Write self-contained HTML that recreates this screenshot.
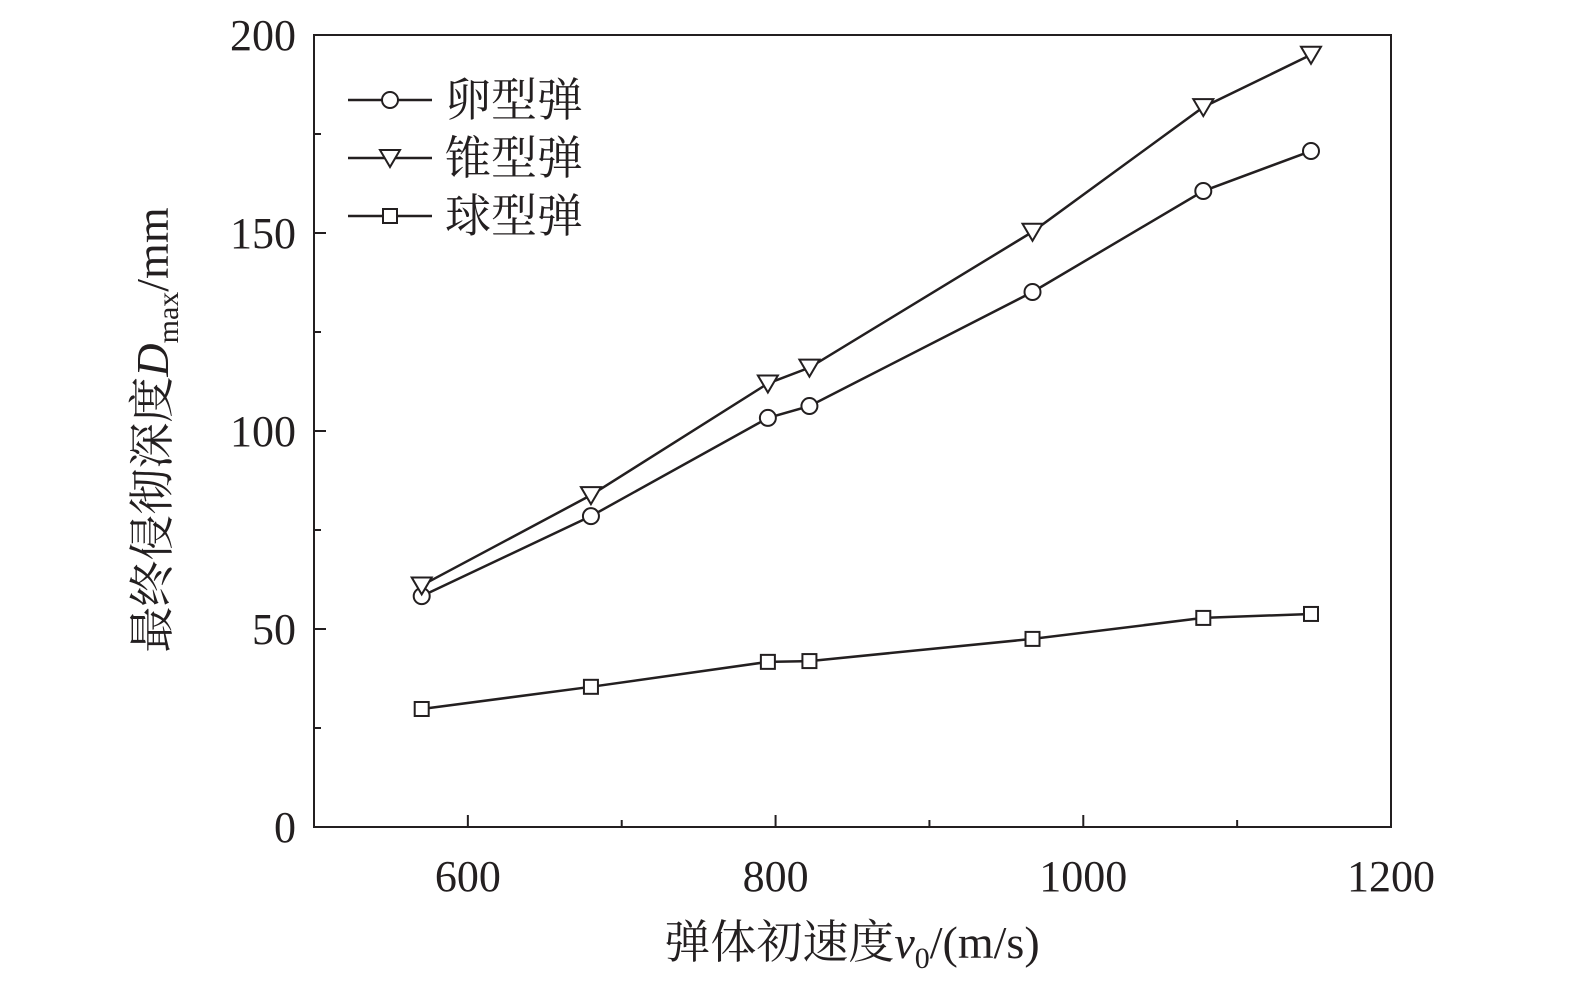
<!DOCTYPE html>
<html><head><meta charset="utf-8"><style>
body{margin:0;background:#fff}
svg text{font-family:"Liberation Serif","Noto Serif CJK SC",serif;fill:#231f20}
</style></head><body>
<svg width="1575" height="995" xmlns="http://www.w3.org/2000/svg">
<g id="axes"></g>
<g id="series"></g>
<g id="legend"></g>
<text x="852" y="958" font-size="46" text-anchor="middle">弹体初速度<tspan font-style="italic">v</tspan><tspan font-size="30" dy="10">0</tspan><tspan dy="-10">/(m/s)</tspan></text>
<text transform="translate(168,430) rotate(-90)" font-size="46" text-anchor="middle">最终侵彻深度<tspan font-style="italic">D</tspan><tspan font-size="30" dy="10">max</tspan><tspan dy="-10">/mm</tspan></text>
</svg>
<script>
const xs=[570,680,795,822,967,1078,1148];
const ogive=[58.3,78.5,103.3,106.3,135.1,160.6,170.7];
const cone=[61,83.8,112,116,150.3,181.8,195];
const sphere=[29.8,35.4,41.7,41.9,47.5,52.8,53.8];
const xTicks=[600,800,1000,1200];
const xMinor=[700,900,1100];
const yTicks=[0,50,100,150,200];
const yMinor=[25,75,125,175];
const names=["卵型弹","锥型弹","球型弹"];
const L=314,R=1391,T=35,B=827;
const X=v=>L+(v-500)/(1200-500)*(R-L);
const Y=v=>B-v/200*(B-T);
const NS="http://www.w3.org/2000/svg";
function mk(tag,at,parent){const e=document.createElementNS(NS,tag);for(const k in at)e.setAttribute(k,at[k]);parent.appendChild(e);return e;}
const ax=document.getElementById('axes'),se=document.getElementById('series'),lg=document.getElementById('legend');
const frame=mk('rect',{x:L,y:T,width:R-L,height:B-T,fill:'none',stroke:'#231f20','stroke-width':2},ax);


xTicks.forEach(v=>{const l=mk('line',{x1:X(v),x2:X(v),y1:B,y2:B-12,stroke:'#231f20','stroke-width':2},ax);


const t=mk('text',{x:X(v),y:B+64,'font-size':44,'text-anchor':'middle'},ax);t.textContent=v;

});
xMinor.forEach(v=>{const l=mk('line',{x1:X(v),x2:X(v),y1:B,y2:B-7,stroke:'#231f20','stroke-width':2},ax);

});
yTicks.forEach(v=>{const l=mk('line',{x1:L,x2:L+12,y1:Y(v),y2:Y(v),stroke:'#231f20','stroke-width':2},ax);


const t=mk('text',{x:L-18,y:Y(v)+15,'font-size':44,'text-anchor':'end'},ax);t.textContent=v;

});
yMinor.forEach(v=>{const l=mk('line',{x1:L,x2:L+7,y1:Y(v),y2:Y(v),stroke:'#231f20','stroke-width':2},ax);

});
function marker(type,x,y,p){let e;
if(type==0)e=mk('circle',{cx:x,cy:y,r:8,fill:'#fff',stroke:'#231f20','stroke-width':2},p);
else if(type==1)e=mk('path',{d:`M${x-10},${y-8}L${x+10},${y-8}L${x},${y+9}Z`,fill:'#fff',stroke:'#231f20','stroke-width':2},p);
else e=mk('rect',{x:x-7,y:y-7,width:14,height:14,fill:'#fff',stroke:'#231f20','stroke-width':2},p);
return e;}
[ogive,cone,sphere].forEach((arr,si)=>{
const pl=mk('polyline',{points:arr.map((v,i)=>X(xs[i])+','+Y(v)).join(' '),fill:'none',stroke:'#231f20','stroke-width':2.5},se);


arr.forEach((v,i)=>{const m=marker(si,X(xs[i]),Y(v),se);

});
const ly=100+si*58;
const ll=mk('line',{x1:348,x2:432,y1:ly,y2:ly,stroke:'#231f20','stroke-width':2.5},lg);


const lm=marker(si,390,ly,lg);


const lt=mk('text',{x:445,y:ly+16,'font-size':46},lg);lt.textContent=names[si];


});
</script>
</body></html>
